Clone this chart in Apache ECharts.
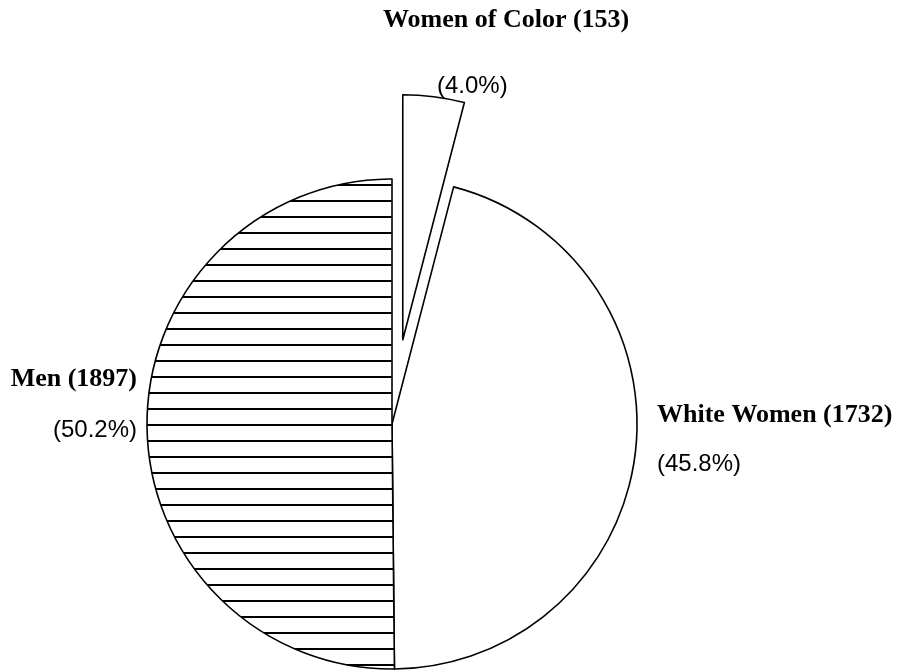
<!DOCTYPE html>
<html>
<head>
<meta charset="utf-8">
<script src="https://cdn.jsdelivr.net/npm/echarts@6/dist/echarts.min.js"></script>
<style>
    html, body { margin: 0; padding: 0; background: #fff; }
    #chart { width: 901px; height: 672px; }
</style>
</head>
<body>
<div id="chart"></div>
<script>
    // slices, clockwise from 12 o'clock
    const categories = ['Women of Color', 'White Women', 'Men'];
    const counts = [153, 1732, 1897];
    const exploded = 'Women of Color';

    // where each label block sits (x, top y, align)
    const labelPos = [
        [383, 5, 'left'],
        [657, 400, 'left'],
        [137, 364, 'right']
    ];
    const pctLineHeight = [103, 69, 73];
    const pctIndent = [54, 0, 0];

    const center = [392, 424];
    const pieRadius = 245;
    const explodeBy = 85;

    // horizontal hatching for the Men slice
    function hatch() {
        const c = document.createElement('canvas');
        c.width = 16;
        c.height = 16;
        const g = c.getContext('2d');
        g.fillStyle = '#fff';
        g.fillRect(0, 0, 16, 16);
        g.fillStyle = '#000';
        g.fillRect(0, 8, 16, 2);
        return c;
    }

    // centre of the pulled-out slice: move along its bisector
    const total = counts.reduce((a, b) => a + b, 0);
    let before = 0;
    for (let i = 0; i < categories.indexOf(exploded); i++) before += counts[i];
    const mid = (before + counts[categories.indexOf(exploded)] / 2) / total * 2 * Math.PI;
    const outCenter = [center[0] + explodeBy * Math.sin(mid), center[1] - explodeBy * Math.cos(mid)];

    const hidden = { color: 'transparent', borderWidth: 0 };

    const mainData = categories.map((name, i) => {
        const item = {
            name: name,
            value: counts[i],
            label: {
                rich: {
                    p: {
                        fontFamily: 'Liberation Sans',
                        fontSize: 24,
                        color: '#000',
                        lineHeight: pctLineHeight[i],
                        padding: [0, 0, 0, pctIndent[i]]
                    }
                }
            }
        };
        if (name === 'Men') {
            item.itemStyle = { color: { image: hatch(), repeat: 'repeat' } };
        }
        if (name === exploded) {
            item.itemStyle = hidden;
        }
        return item;
    });

    const outData = categories.map((name, i) => ({
        name: name,
        value: counts[i],
        itemStyle: name === exploded ? {} : hidden
    }));

    const chart = echarts.init(document.getElementById('chart'));

    const base = {
        type: 'pie',
        radius: pieRadius,
        startAngle: 90,
        clockwise: true,
        silent: true,
        percentPrecision: 1,
        avoidLabelOverlap: false,
        itemStyle: {
            color: '#fff',
            borderColor: '#000',
            borderWidth: 1.6
        },
        emphasis: { disabled: true },
        labelLine: { show: false }
    };

    const option = {
        backgroundColor: '#fff',
        animation: false,
        series: [
            Object.assign({}, base, {
                center: center,
                label: {
                    show: true,
                    position: 'outside',
                    formatter: function (p) {
                        return '{n|' + p.name + ' (' + p.value + ')}\n{p|(' + p.percent.toFixed(1) + '%)}';
                    },
                    rich: {
                        n: {
                            fontFamily: 'Liberation Serif',
                            fontWeight: 'bold',
                            fontSize: 26,
                            color: '#000',
                            lineHeight: 30
                        }
                    }
                },
                labelLayout: function (params) {
                    const p = labelPos[params.dataIndex];
                    return { x: p[0], y: p[1], align: p[2], verticalAlign: 'top' };
                },
                data: mainData
            }),
            Object.assign({}, base, {
                center: outCenter,
                label: { show: false },
                data: outData
            })
        ]
    };

    chart.setOption(option);
</script>
</body>
</html>
